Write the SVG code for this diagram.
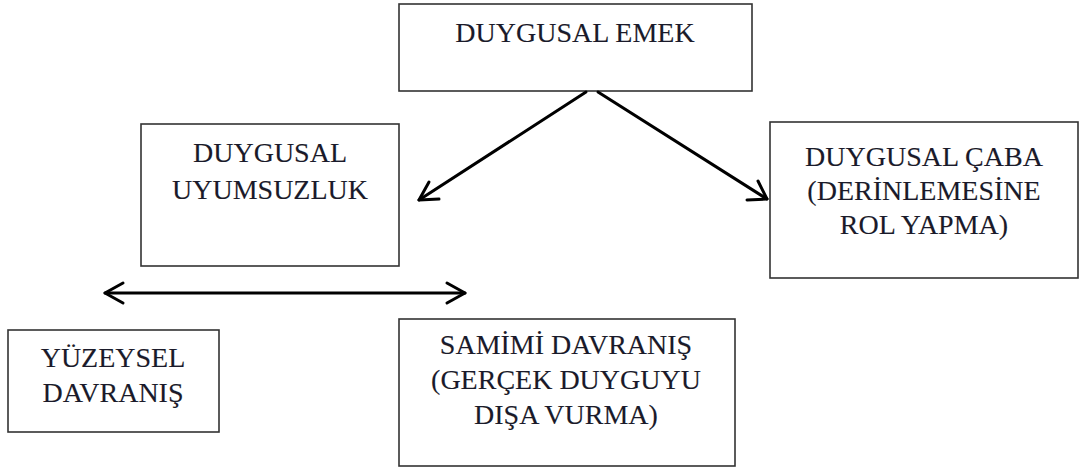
<svg xmlns="http://www.w3.org/2000/svg" width="1080" height="467" viewBox="0 0 1080 467">
  <defs>
    <style>
      .box { fill: #ffffff; stroke: #333333; stroke-width: 1.6; }
      .lbl { font-family: 'Liberation Serif', 'DejaVu Serif', serif; font-size: 28px; fill: #1a1a2a; stroke: #1a1a2a; stroke-width: 0.12; text-anchor: middle; }
      .link { fill: none; stroke: #000000; stroke-width: 3; stroke-linecap: round; stroke-linejoin: round; }
    </style>
  </defs>
  <rect width="1080" height="467" fill="#ffffff"/>

  <g id="duygusal-emek">
    <rect class="box" x="399" y="4" width="353" height="87"/>
    <text class="lbl" x="575" y="42">DUYGUSAL EMEK</text>
  </g>

  <g id="duygusal-uyumsuzluk">
    <rect class="box" x="141" y="124" width="258" height="142"/>
    <text class="lbl" x="270" y="162">DUYGUSAL</text>
    <text class="lbl" x="270" y="199">UYUMSUZLUK</text>
  </g>

  <g id="duygusal-caba">
    <rect class="box" x="770" y="122" width="308" height="156"/>
    <text class="lbl" x="924" y="166">DUYGUSAL ÇABA</text>
    <text class="lbl" x="924" y="200">(DERİNLEMESİNE</text>
    <text class="lbl" x="924" y="234">ROL YAPMA)</text>
  </g>

  <g id="yuzeysel-davranis">
    <rect class="box" x="8" y="330" width="211" height="102"/>
    <text class="lbl" x="113" y="367">YÜZEYSEL</text>
    <text class="lbl" x="113" y="402">DAVRANIŞ</text>
  </g>

  <g id="samimi-davranis">
    <rect class="box" x="399" y="319" width="336" height="147"/>
    <text class="lbl" x="566" y="354">SAMİMİ DAVRANIŞ</text>
    <text class="lbl" x="566" y="389">(GERÇEK DUYGUYU</text>
    <text class="lbl" x="566" y="424">DIŞA VURMA)</text>
  </g>

  <g id="connectors">
    <!-- emek to uyumsuzluk -->
    <path class="link" d="M586 92 L419 200"/>
    <path class="link" d="M429 182 L419 200 L439 199"/>
    <!-- emek to caba -->
    <path class="link" d="M598 92 L767 199"/>
    <path class="link" d="M747 200 L767 199 L758 181"/>
    <!-- two-way between behaviours -->
    <path class="link" d="M105 293 L465 293"/>
    <path class="link" d="M123 283 L105 293 L123 303"/>
    <path class="link" d="M447 283 L465 293 L447 303"/>
  </g>
</svg>
